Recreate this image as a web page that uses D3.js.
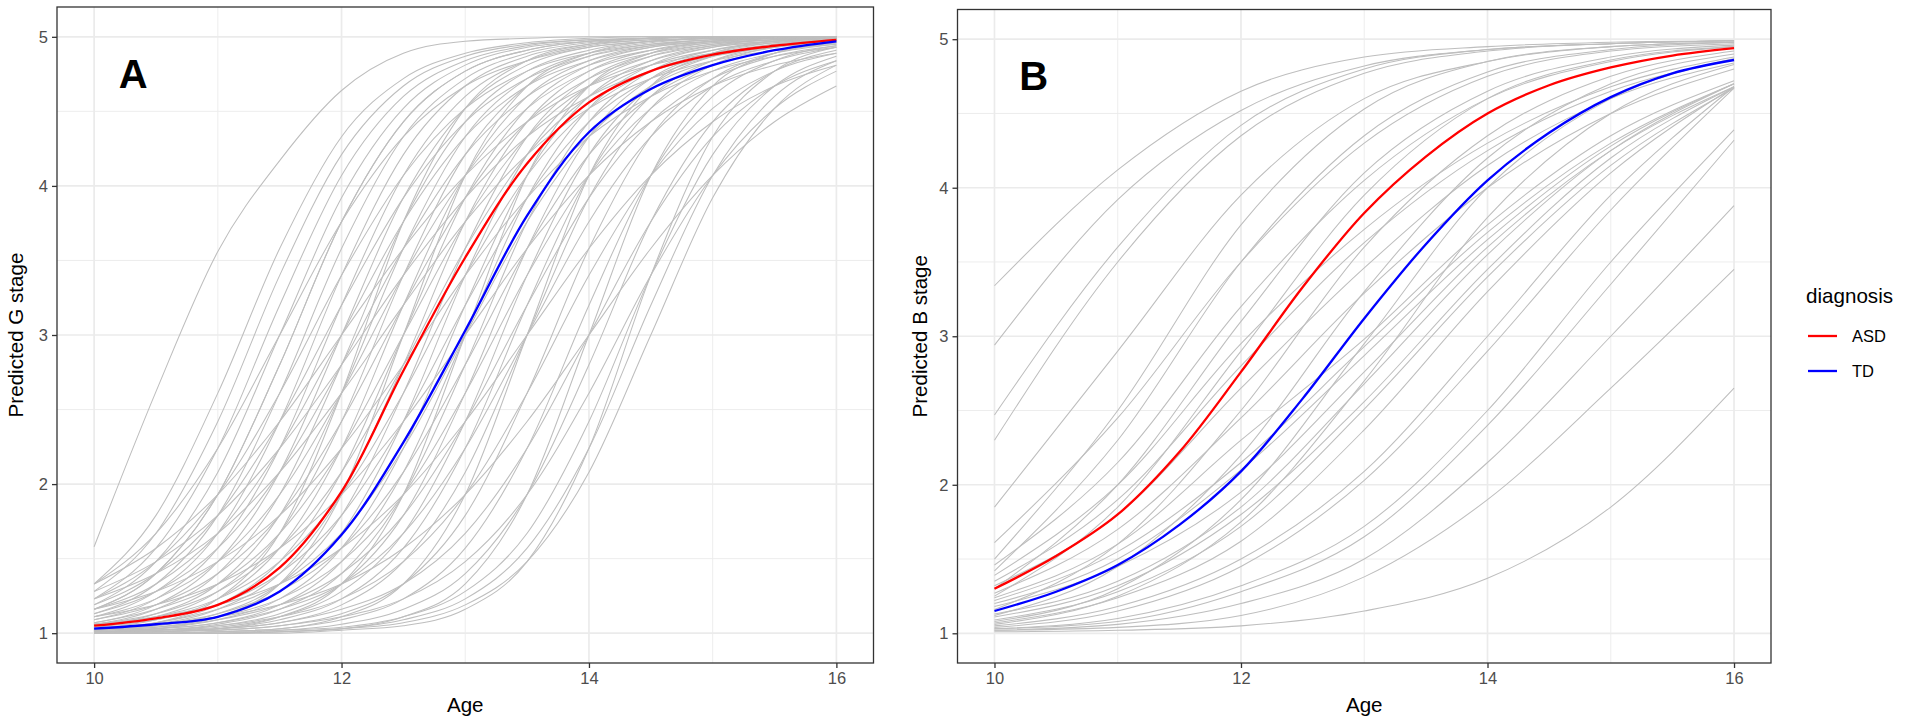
<!DOCTYPE html>
<html><head><meta charset="utf-8">
<script src="https://cdn.jsdelivr.net/npm/d3@7"></script>
<style>
body{margin:0;background:#fff;}
text{font-family:"Liberation Sans",Arial,Helvetica,sans-serif;}
</style>
</head><body>
<svg id="chart" width="1905" height="723"></svg>
<script>
// ---------- data ----------
const agesFine = [10,10.5,11,11.5,12,12.5,13,13.5,14,14.5,15,15.5,16];
const agesB = [10,11,12,13,14,15,16];
const xTicks = [10,12,14,16];
const xMinor = [11,13,15];
const yTicks = [1,2,3,4,5];
const yMinor = [1.5,2.5,3.5,4.5];
const diagnoses = ["ASD","TD"];
const diagColors = ["#FF0000","#0000FF"];

// mean curves (ages = agesFine)
const asdA = [1.05,1.10,1.19,1.44,1.95,2.76,3.52,4.15,4.56,4.77,4.88,4.94,4.98];
const tdA  = [1.03,1.06,1.11,1.28,1.66,2.28,3.03,3.80,4.36,4.65,4.81,4.91,4.97];
const asdB = [1.30,1.52,1.80,2.22,2.76,3.33,3.83,4.21,4.50,4.69,4.81,4.89,4.94];
const tdB  = [1.15,1.28,1.46,1.73,2.09,2.58,3.12,3.62,4.05,4.37,4.61,4.77,4.86];

// individual curves, panel A (ages = agesFine)
const grayA = [
[1.58,2.62,3.56,4.17,4.64,4.89,4.97,4.99,5.00,5.00,5.00,5.00,5.00],
[1.33,1.79,2.61,3.58,4.33,4.72,4.89,4.96,4.99,5.00,5.00,5.00,5.00],
[1.28,1.67,2.42,3.40,4.21,4.67,4.87,4.95,4.98,4.99,5.00,5.00,5.00],
[1.19,1.48,2.08,3.00,3.92,4.52,4.81,4.93,4.97,4.99,5.00,5.00,5.00],
[1.23,1.57,2.24,3.20,4.07,4.60,4.84,4.94,4.98,4.99,5.00,5.00,5.00],
[1.16,1.40,1.93,2.80,3.76,4.43,4.77,4.91,4.97,4.99,5.00,5.00,5.00],
[1.33,1.67,2.24,3.00,3.76,4.33,4.67,4.84,4.93,4.97,4.99,4.99,5.00],
[1.23,1.48,1.93,2.61,3.40,4.07,4.52,4.77,4.89,4.95,4.98,4.99,5.00],
[1.16,1.33,1.67,2.24,3.00,3.76,4.33,4.67,4.84,4.93,4.97,4.99,4.99],
[1.11,1.23,1.48,1.93,2.61,3.40,4.07,4.52,4.77,4.89,4.95,4.98,4.99],
[1.07,1.16,1.33,1.67,2.24,3.00,3.76,4.33,4.67,4.84,4.93,4.97,4.99],
[1.05,1.11,1.23,1.48,1.93,2.61,3.40,4.07,4.52,4.77,4.89,4.95,4.98],
[1.03,1.07,1.16,1.33,1.67,2.24,3.00,3.76,4.33,4.67,4.84,4.93,4.97],
[1.02,1.05,1.11,1.23,1.48,1.93,2.61,3.40,4.07,4.52,4.77,4.89,4.95],
[1.02,1.03,1.07,1.16,1.33,1.67,2.24,3.00,3.76,4.33,4.67,4.84,4.93],
[1.01,1.02,1.05,1.11,1.23,1.48,1.93,2.61,3.40,4.07,4.52,4.77,4.89],
[1.19,1.40,1.79,2.42,3.20,3.92,4.43,4.72,4.87,4.94,4.97,4.99,5.00],
[1.13,1.28,1.57,2.08,2.80,3.58,4.21,4.60,4.81,4.91,4.96,4.98,4.99],
[1.09,1.19,1.40,1.79,2.42,3.20,3.92,4.43,4.72,4.87,4.94,4.97,4.99],
[1.06,1.13,1.28,1.57,2.08,2.80,3.58,4.21,4.60,4.81,4.91,4.96,4.98],
[1.04,1.09,1.19,1.40,1.79,2.42,3.20,3.92,4.43,4.72,4.87,4.94,4.97],
[1.03,1.06,1.13,1.28,1.57,2.08,2.80,3.58,4.21,4.60,4.81,4.91,4.96],
[1.02,1.04,1.09,1.19,1.40,1.79,2.42,3.20,3.92,4.43,4.72,4.87,4.94],
[1.13,1.33,1.79,2.61,3.58,4.33,4.72,4.89,4.96,4.99,5.00,5.00,5.00],
[1.09,1.23,1.57,2.24,3.20,4.07,4.60,4.84,4.94,4.98,4.99,5.00,5.00],
[1.06,1.16,1.40,1.93,2.80,3.76,4.43,4.77,4.91,4.97,4.99,5.00,5.00],
[1.04,1.11,1.28,1.67,2.42,3.40,4.21,4.67,4.87,4.95,4.98,4.99,5.00],
[1.03,1.07,1.19,1.48,2.08,3.00,3.92,4.52,4.81,4.93,4.97,4.99,5.00],
[1.02,1.05,1.13,1.33,1.79,2.61,3.58,4.33,4.72,4.89,4.96,4.99,5.00],
[1.01,1.03,1.09,1.23,1.57,2.24,3.20,4.07,4.60,4.84,4.94,4.98,4.99],
[1.01,1.02,1.06,1.16,1.40,1.93,2.80,3.76,4.43,4.77,4.91,4.97,4.99],
[1.00,1.02,1.04,1.11,1.28,1.67,2.42,3.40,4.21,4.67,4.87,4.95,4.98],
[1.00,1.01,1.03,1.07,1.19,1.48,2.08,3.00,3.92,4.52,4.81,4.93,4.97],
[1.00,1.01,1.02,1.05,1.13,1.33,1.79,2.61,3.58,4.33,4.72,4.89,4.96],
[1.00,1.00,1.01,1.03,1.09,1.23,1.57,2.24,3.20,4.07,4.60,4.84,4.94],
[1.00,1.00,1.01,1.02,1.06,1.16,1.40,1.93,2.80,3.76,4.43,4.77,4.91],
[1.00,1.00,1.00,1.02,1.04,1.11,1.28,1.67,2.42,3.40,4.21,4.67,4.87],
[1.00,1.00,1.00,1.01,1.03,1.07,1.19,1.48,2.08,3.00,3.92,4.52,4.81],
[1.11,1.28,1.67,2.42,3.40,4.21,4.67,4.87,4.95,4.98,4.99,5.00,5.00],
[1.07,1.19,1.48,2.08,3.00,3.92,4.52,4.81,4.93,4.97,4.99,5.00,5.00],
[1.05,1.13,1.33,1.79,2.61,3.58,4.33,4.72,4.89,4.96,4.99,5.00,5.00],
[1.03,1.09,1.23,1.57,2.24,3.20,4.07,4.60,4.84,4.94,4.98,4.99,5.00],
[1.02,1.06,1.16,1.40,1.93,2.80,3.76,4.43,4.77,4.91,4.97,4.99,5.00],
[1.02,1.04,1.11,1.28,1.67,2.42,3.40,4.21,4.67,4.87,4.95,4.98,4.99],
[1.01,1.03,1.07,1.19,1.48,2.08,3.00,3.92,4.52,4.81,4.93,4.97,4.99],
[1.01,1.02,1.05,1.13,1.33,1.79,2.61,3.58,4.33,4.72,4.89,4.96,4.99],
[1.00,1.01,1.03,1.09,1.23,1.57,2.24,3.20,4.07,4.60,4.84,4.94,4.98],
[1.28,1.48,1.79,2.24,2.80,3.40,3.92,4.33,4.60,4.77,4.87,4.93,4.96],
[1.33,1.57,1.93,2.42,3.00,3.58,4.07,4.43,4.67,4.81,4.89,4.94,4.97],
[1.23,1.40,1.67,2.08,2.61,3.20,3.76,4.21,4.52,4.72,4.84,4.91,4.95],
[1.16,1.28,1.48,1.79,2.24,2.80,3.40,3.92,4.33,4.60,4.77,4.87,4.93],
[1.11,1.19,1.33,1.57,1.93,2.42,3.00,3.58,4.07,4.43,4.67,4.81,4.89],
[1.06,1.11,1.19,1.33,1.57,1.93,2.42,3.00,3.58,4.07,4.43,4.67,4.81],
[1.03,1.06,1.11,1.19,1.33,1.57,1.93,2.42,3.00,3.58,4.07,4.43,4.67],
[1.02,1.07,1.23,1.67,2.61,3.76,4.52,4.84,4.95,4.99,5.00,5.00,5.00],
[1.01,1.03,1.11,1.33,1.93,3.00,4.07,4.67,4.89,4.97,4.99,5.00,5.00],
[1.00,1.01,1.03,1.11,1.33,1.93,3.00,4.07,4.67,4.89,4.97,4.99,5.00],
[1.00,1.00,1.01,1.03,1.11,1.33,1.93,3.00,4.07,4.67,4.89,4.97,4.99],
[1.00,1.00,1.00,1.01,1.03,1.11,1.33,1.93,3.00,4.07,4.67,4.89,4.97],
[1.00,1.00,1.00,1.00,1.02,1.05,1.16,1.48,2.24,3.40,4.33,4.77,4.93],
[1.01,1.02,1.03,1.07,1.16,1.33,1.67,2.24,3.00,3.76,4.33,4.67,4.84],
[1.00,1.01,1.02,1.05,1.11,1.23,1.48,1.93,2.61,3.40,4.07,4.52,4.77],
[1.00,1.00,1.00,1.01,1.03,1.09,1.23,1.57,2.24,3.20,4.07,4.60,4.84],
[1.16,1.40,1.93,2.80,3.76,4.43,4.77,4.91,4.97,4.99,5.00,5.00,5.00]
];

// individual curves, panel B (ages = agesB)
const grayB = [
[3.34,4.12,4.65,4.88,4.95,4.98,4.99],
[2.94,3.92,4.52,4.82,4.93,4.97,4.99],
[2.47,3.60,4.42,4.80,4.93,4.97,4.99],
[2.30,3.50,4.35,4.77,4.92,4.97,4.99],
[1.85,2.90,3.95,4.60,4.85,4.95,4.98],
[1.61,2.45,3.50,4.30,4.75,4.92,4.97],
[1.46,2.15,3.20,4.05,4.60,4.85,4.95],
[1.39,2.00,2.95,3.72,4.30,4.68,4.88],
[1.35,1.90,2.80,3.63,4.25,4.65,4.86],
[1.32,1.80,2.65,3.46,4.15,4.60,4.84],
[1.27,1.70,2.45,3.29,4.00,4.50,4.80],
[1.24,1.60,2.30,2.98,3.75,4.35,4.72],
[1.22,1.55,2.15,2.93,3.70,4.30,4.70],
[1.20,1.50,2.10,2.87,3.65,4.28,4.70],
[1.18,1.45,1.95,2.76,3.60,4.25,4.68],
[1.13,1.35,1.85,2.68,3.55,4.25,4.70],
[1.11,1.32,1.80,2.56,3.45,4.20,4.68],
[1.09,1.28,1.72,2.51,3.40,4.15,4.67],
[1.07,1.24,1.62,2.37,3.30,4.10,4.68],
[1.05,1.18,1.50,2.09,3.00,3.95,4.68],
[1.04,1.15,1.45,2.03,2.90,3.85,4.67],
[1.03,1.10,1.32,1.72,2.50,3.50,4.39],
[1.03,1.08,1.28,1.65,2.40,3.35,4.32],
[1.02,1.06,1.20,1.50,2.15,3.00,3.88],
[1.02,1.04,1.12,1.38,1.90,2.65,3.45],
[1.01,1.02,1.05,1.15,1.37,1.85,2.65],
[1.30,2.00,3.10,4.10,4.65,4.88,4.96],
[1.25,1.85,2.90,3.95,4.60,4.86,4.95],
[1.16,1.60,2.50,3.60,4.35,4.75,4.92],
[1.12,1.45,2.20,3.30,4.20,4.70,4.90],
[1.08,1.30,1.90,2.95,4.00,4.60,4.87],
[1.06,1.25,1.75,2.70,3.80,4.50,4.83],
[1.42,2.30,3.50,4.35,4.78,4.93,4.98],
[1.50,2.50,3.75,4.53,4.85,4.95,4.98]
];

// ---------- drawing ----------
const svg = d3.select("#chart");
svg.append("rect").attr("width",1905).attr("height",723).attr("fill","#fff");

const panels = [
  {label:"A", ytitle:"Predicted G stage", xr:[57,873.5], yr:[663,7], gray:grayA, grayAges:agesFine, means:[asdA,tdA], ytx:23},
  {label:"B", ytitle:"Predicted B stage", xr:[957.5,1771], yr:[663,9.5], gray:grayB, grayAges:agesB, means:[asdB,tdB], ytx:927}
];

panels.forEach(p => {
  const x = d3.scaleLinear().domain([9.7,16.3]).range(p.xr);
  const y = d3.scaleLinear().domain([0.8,5.2]).range(p.yr);
  const g = svg.append("g");
  const [x0,x1] = p.xr, [y1,y0] = p.yr;

  // grid
  const grid = g.append("g");
  xMinor.forEach(v => grid.append("line").attr("x1",x(v)).attr("x2",x(v)).attr("y1",y0).attr("y2",y1)
      .attr("stroke","#EBEBEB").attr("stroke-width",0.9));
  yMinor.forEach(v => grid.append("line").attr("x1",x0).attr("x2",x1).attr("y1",y(v)).attr("y2",y(v))
      .attr("stroke","#EBEBEB").attr("stroke-width",0.9));
  xTicks.forEach(v => grid.append("line").attr("x1",x(v)).attr("x2",x(v)).attr("y1",y0).attr("y2",y1)
      .attr("stroke","#EBEBEB").attr("stroke-width",1.7));
  yTicks.forEach(v => grid.append("line").attr("x1",x0).attr("x2",x1).attr("y1",y(v)).attr("y2",y(v))
      .attr("stroke","#EBEBEB").attr("stroke-width",1.7));

  // curves
  const clipId = "clip"+p.label;
  g.append("clipPath").attr("id",clipId).append("rect")
    .attr("x",x0).attr("y",y0).attr("width",x1-x0).attr("height",y1-y0);
  const lines = g.append("g").attr("clip-path","url(#"+clipId+")");
  const lineGen = (ages, curve) => d3.line().x((d,i)=>x(ages[i])).y(d=>y(d)).curve(curve);
  lines.selectAll("path.gray").data(p.gray).enter().append("path")
    .attr("class","gray").attr("d", d => lineGen(p.grayAges, d3.curveMonotoneX)(d))
    .attr("fill","none").attr("stroke","#BEBEBE").attr("stroke-width",1.05);
  p.means.forEach((m,i) => {
    lines.append("path").attr("d", lineGen(agesFine, d3.curveCatmullRom.alpha(0.5))(m))
      .attr("fill","none").attr("stroke",diagColors[i]).attr("stroke-width",2.3);
  });

  // border
  g.append("rect").attr("x",x0).attr("y",y0).attr("width",x1-x0).attr("height",y1-y0)
    .attr("fill","none").attr("stroke","#333333").attr("stroke-width",1.3);

  // axes
  const xa = d3.axisBottom(x).tickValues(xTicks).tickSize(5).tickPadding(4).tickFormat(d3.format("d"));
  const gx = g.append("g").attr("transform","translate(0,"+y1+")").call(xa);
  const ya = d3.axisLeft(y).tickValues(yTicks).tickSize(5).tickPadding(4).tickFormat(d3.format("d"));
  const gy = g.append("g").attr("transform","translate("+x0+",0)").call(ya);
  [gx,gy].forEach(a => {
    a.select(".domain").remove();
    a.selectAll(".tick line").attr("stroke","#333333").attr("stroke-width",1.3);
    a.selectAll(".tick text").attr("fill","#4D4D4D").style("font-size","16.5px")
      .style("font-family","'Liberation Sans',Arial,sans-serif");
  });

  // panel label
  g.append("text").attr("x",x(10.2)).attr("y",y(4.66)).text(p.label)
    .style("font-size","40px").style("font-weight","bold").attr("fill","#000");

  // axis titles
  g.append("text").attr("x",(x0+x1)/2).attr("y",712).attr("text-anchor","middle")
    .style("font-size","20.6px").attr("fill","#000").text("Age");
  g.append("text").attr("transform","translate("+p.ytx+","+((y0+y1)/2)+") rotate(-90)")
    .attr("text-anchor","middle").style("font-size","20.6px").attr("fill","#000").text(p.ytitle);
});

// legend
const leg = svg.append("g");
leg.append("text").attr("x",1806).attr("y",303).style("font-size","20.6px").attr("fill","#000").text("diagnosis");
diagnoses.forEach((d,i) => {
  const cy = 336 + i*35;
  leg.append("line").attr("x1",1808).attr("x2",1837).attr("y1",cy).attr("y2",cy)
    .attr("stroke",diagColors[i]).attr("stroke-width",2.3);
  leg.append("text").attr("x",1852).attr("y",cy).attr("dy","0.35em")
    .style("font-size","16.5px").attr("fill","#000").text(d);
});
</script>
</body></html>
